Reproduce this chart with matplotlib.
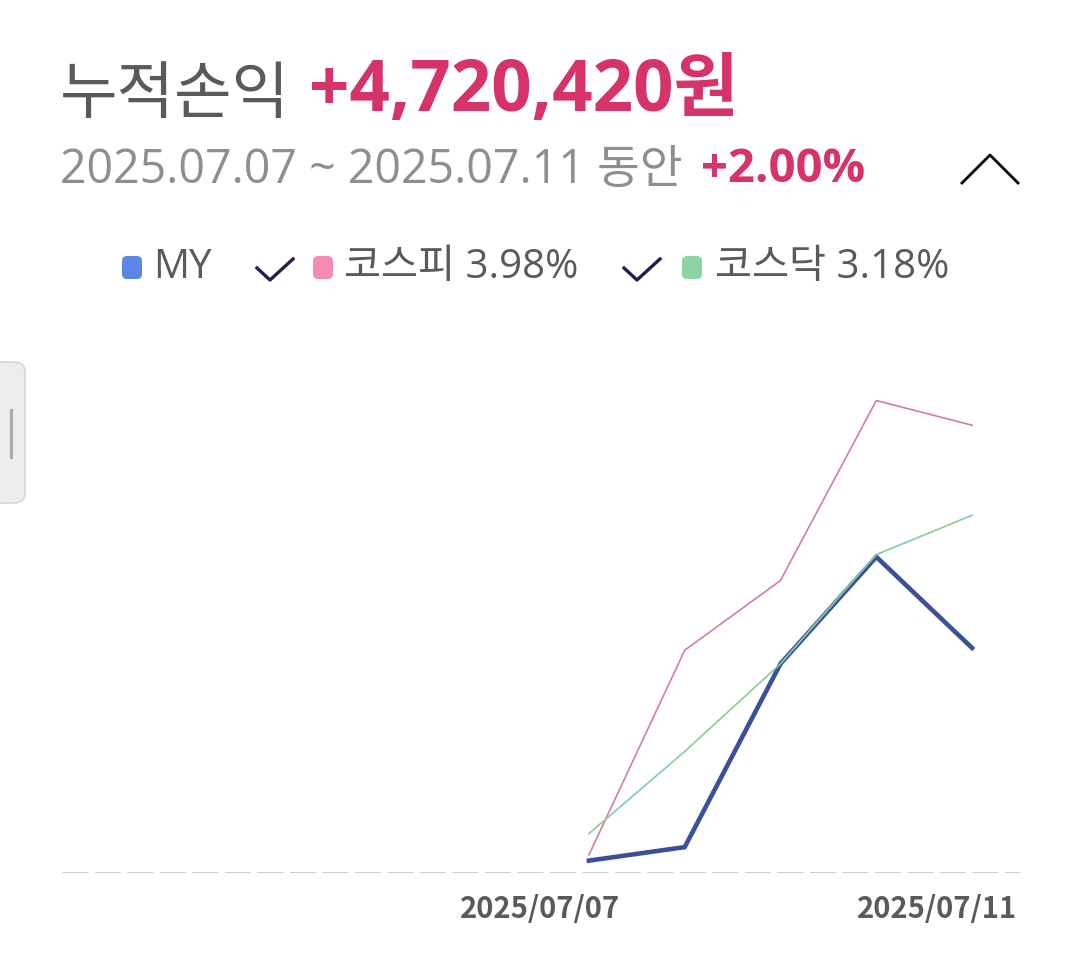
import matplotlib.pyplot as plt
from matplotlib.patches import FancyBboxPatch
from matplotlib.lines import Line2D

plt.rcParams['font.family'] = ['Noto Sans CJK KR', 'DejaVu Sans']
LATIN = ['Open Sans', 'Noto Sans CJK KR']

W, H = 1079, 976

# data: cumulative return (%) per trading day, 10 slots with only the last 5 filled
slots = list(range(10))
days = [5, 6, 7, 8, 9]
my_ret = [0.11, 0.23, 1.86, 2.81, 2.00]
kospi_ret = [0.16, 1.98, 2.60, 4.20, 3.98]
kosdaq_ret = [0.35, 1.08, 1.86, 2.83, 3.18]
xlabels = ['2025/07/07', '2025/07/11']

title_label = '누적손익'
title_value = '+4,720,420원'
period_label = '2025.07.07 ~ 2025.07.11 동안'
period_value = '+2.00%'
legend_items = [('MY', '#5b86e5', False), ('코스피 3.98%', '#f58bb4', True),
                ('코스닥 3.18%', '#8dd3a4', True)]

GRAY = '#5a5a5a'
LIGHT = '#8e8e8e'
PINK = '#d6336c'


def fx(x):
    return x / W


def fy(y):
    return 1 - y / H


fig = plt.figure(figsize=(W / 100, H / 100), dpi=100)

# plot area: x 62..1020, y 380..873 px
ax = fig.add_axes([fx(62), fy(873), fx(1020) - fx(62), (873 - 380) / H])
ax.set_xlim(-0.5, 9.5)
ax.set_ylim(0, 493 / 112.5)
ax.axis('off')
ax.axhline(0, color='#c9c9c9', lw=2.0, ls=(0, (9.3, 2.4)), zorder=1)
ax.plot(days, kospi_ret, color='#d07fa2', lw=1.2, zorder=2)
ax.plot(days, kosdaq_ret, color='#86cc9c', lw=1.2, zorder=3)
ax.plot(days, my_ret, color='#3a5199', lw=3.3, zorder=2.5,
        solid_joinstyle='miter')

# titles
fig.text(fx(60), fy(95), title_label, fontsize=45, color=GRAY,
         va='center', ha='left', fontweight='medium')
fig.text(fx(309), fy(92), title_value, fontsize=51, color=PINK,
         va='center', ha='left', fontweight='bold', family=LATIN)
fig.text(fx(60), fy(170), period_label, fontsize=33.5, color=LIGHT,
         va='center', ha='left', family=LATIN)
fig.text(fx(701), fy(170), period_value, fontsize=34, color=PINK,
         va='center', ha='left', fontweight='bold', family=LATIN)

# chevron
fig.add_artist(Line2D([fx(962), fx(990), fx(1018)], [fy(183), fy(155), fy(183)],
                      color='black', lw=2.0))

# legend
marker_x = [122, 313, 682]
text_x = [153, 344, 715]
check_x = [None, 257, 624]
ly = 268
for (lab, col, chk), mx, tx, cx in zip(legend_items, marker_x, text_x, check_x):
    fig.add_artist(FancyBboxPatch((fx(mx), fy(ly + 11)), fx(20), 23 / H,
                                  boxstyle='round,pad=0,rounding_size=0.005',
                                  transform=fig.transFigure, color=col, lw=0))
    fig.text(fx(tx), fy(ly), lab, fontsize=29, color=GRAY, va='center',
             ha='left', family=LATIN)
    if chk:
        fig.add_artist(Line2D([fx(cx), fx(cx + 13), fx(cx + 36)],
                              [fy(ly), fy(ly + 12), fy(ly - 9)],
                              color='#1e2150', lw=2.4))

# x labels
fig.text(fx(540), fy(909), xlabels[0], fontsize=21, color=GRAY,
         va='center', ha='center', fontweight='bold')
fig.text(fx(1017), fy(909), xlabels[1], fontsize=21, color=GRAY,
         va='center', ha='right', fontweight='bold')

# side handle
fig.add_artist(FancyBboxPatch((fx(-20), fy(503)), fx(45), 141 / H,
                              boxstyle='round,pad=0,rounding_size=0.01',
                              transform=fig.transFigure, facecolor='#ececec',
                              edgecolor='#d6d6d6', lw=1.2))
fig.add_artist(Line2D([fx(11), fx(11)], [fy(410), fy(457)],
                      color='#aaaaaa', lw=2.2))

fig.savefig('out.png', dpi=100)
